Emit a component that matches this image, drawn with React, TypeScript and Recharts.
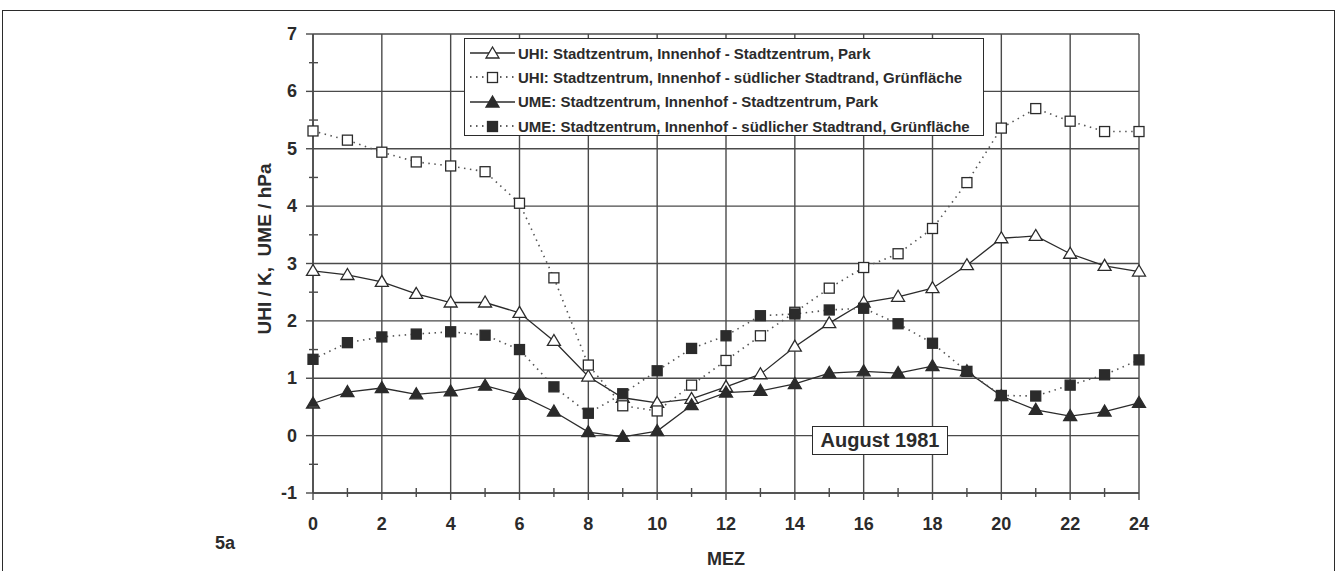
import { LineChart, Line, XAxis, YAxis, CartesianGrid, Legend } from 'recharts'

// ─── Data (MEZ hours) ───────────────────────────────────────────────────────

const HOURS = [0, 1, 2, 3, 4, 5, 6, 7, 8, 9, 10, 11, 12, 13, 14, 15, 16, 17, 18, 19, 20, 21, 22, 23, 24]

const UHI_PARK = [2.87, 2.8, 2.68, 2.47, 2.32, 2.32, 2.14, 1.65, 1.03, 0.66, 0.57, 0.64, 0.85, 1.07, 1.55, 1.96, 2.32, 2.42, 2.57, 2.97, 3.44, 3.48, 3.17, 2.96, 2.86]
const UHI_GRUEN = [5.31, 5.15, 4.94, 4.77, 4.7, 4.6, 4.05, 2.75, 1.23, 0.52, 0.43, 0.88, 1.31, 1.74, 2.15, 2.57, 2.93, 3.17, 3.61, 4.41, 5.36, 5.7, 5.48, 5.3, 5.3]
const UME_PARK = [0.56, 0.76, 0.83, 0.72, 0.77, 0.87, 0.71, 0.42, 0.06, -0.02, 0.08, 0.53, 0.75, 0.78, 0.9, 1.09, 1.12, 1.09, 1.21, 1.12, 0.69, 0.45, 0.34, 0.42, 0.57]
const UME_GRUEN = [1.33, 1.62, 1.72, 1.77, 1.81, 1.75, 1.5, 0.85, 0.39, 0.73, 1.13, 1.52, 1.74, 2.09, 2.12, 2.19, 2.22, 1.95, 1.61, 1.12, 0.7, 0.69, 0.88, 1.06, 1.32]

const X_GRID = [0, 2, 4, 6, 8, 10, 12, 14, 16, 18, 20, 22, 24]
const Y_GRID = [-1, 0, 1, 2, 3, 4, 5, 6, 7]
const Y_TICKS = [-1, -0.5, 0, 0.5, 1, 1.5, 2, 2.5, 3, 3.5, 4, 4.5, 5, 5.5, 6, 6.5, 7]

const SERIES = [
  { key: 'uhiPark', label: 'UHI: Stadtzentrum, Innenhof - Stadtzentrum, Park', shape: 'triangle', filled: false, dotted: false },
  { key: 'uhiGruen', label: 'UHI: Stadtzentrum, Innenhof - südlicher Stadtrand, Grünfläche', shape: 'square', filled: false, dotted: true },
  { key: 'umePark', label: 'UME: Stadtzentrum, Innenhof - Stadtzentrum, Park', shape: 'triangle', filled: true, dotted: false },
  { key: 'umeGruen', label: 'UME: Stadtzentrum, Innenhof - südlicher Stadtrand, Grünfläche', shape: 'square', filled: true, dotted: true },
]

const data = HOURS.map((h, i) => ({
  h,
  uhiPark: UHI_PARK[i],
  uhiGruen: UHI_GRUEN[i],
  umePark: UME_PARK[i],
  umeGruen: UME_GRUEN[i],
}))

const INK = '#2b2b2b'
const GRID = '#4a4a4a'
const FONT = '"Liberation Sans", Arial, Helvetica, sans-serif'

// ─── Markers ────────────────────────────────────────────────────────────────

function Marker({ cx, cy, shape, filled }: { cx: number; cy: number; shape: string; filled: boolean }) {
  const fill = filled ? INK : '#fff'
  if (shape === 'triangle') {
    const pts = `${cx},${cy - 6.5} ${cx - 6.5},${cy + 4.5} ${cx + 6.5},${cy + 4.5}`
    return <polygon points={pts} fill={fill} stroke={INK} strokeWidth={1.3} />
  }
  return <rect x={cx - 5} y={cy - 5} width={10} height={10} fill={fill} stroke={INK} strokeWidth={1.3} />
}

function makeDot(shape: string, filled: boolean) {
  return (props: { cx?: number; cy?: number; index?: number }) => {
    const { cx, cy, index } = props
    if (cx == null || cy == null) return <g key={index} />
    return <Marker key={index} cx={cx} cy={cy} shape={shape} filled={filled} />
  }
}

// ─── Axis ticks (label + tick mark drawn together) ──────────────────────────

function XTick(props: { x?: number; y?: number; payload?: { value: number } }) {
  const { x = 0, y = 0, payload } = props
  const v = payload?.value ?? 0
  if (v % 2 !== 0) {
    return <line x1={x} x2={x} y1={y - 5} y2={y + 4} stroke={GRID} strokeWidth={1.4} />
  }
  return (
    <g>
      <line x1={x} x2={x} y1={y} y2={y + 7} stroke={GRID} strokeWidth={1.4} />
      <text x={x} y={y + 31} textAnchor="middle" dominantBaseline="central" fontFamily={FONT} fontWeight={700} fontSize={18} fill={INK}>
        {v}
      </text>
    </g>
  )
}

function YTick(props: { x?: number; y?: number; payload?: { value: number } }) {
  const { x = 0, y = 0, payload } = props
  const v = payload?.value ?? 0
  if (!Number.isInteger(v)) {
    return <line x1={x - 4} x2={x + 5} y1={y} y2={y} stroke={GRID} strokeWidth={1.4} />
  }
  return (
    <g>
      <line x1={x - 7} x2={x} y1={y} y2={y} stroke={GRID} strokeWidth={1.4} />
      <text x={x - 16} y={y} textAnchor="end" dominantBaseline="central" fontFamily={FONT} fontWeight={700} fontSize={18} fill={INK}>
        {v}
      </text>
    </g>
  )
}

// ─── Legend box ─────────────────────────────────────────────────────────────

function LegendBox() {
  return (
    <div style={{ fontFamily: FONT, fontWeight: 700, fontSize: 15, color: INK, paddingTop: 2 }}>
      {SERIES.map((s) => (
        <div key={s.key} style={{ display: 'flex', alignItems: 'center', height: 24.3 }}>
          <svg width={52} height={20} style={{ flexShrink: 0 }}>
            <line x1={5} x2={50} y1={10} y2={10} stroke={INK} strokeWidth={1.3} strokeDasharray={s.dotted ? '1.5 4.5' : undefined} />
            <Marker cx={27.5} cy={10.5} shape={s.shape} filled={s.filled} />
          </svg>
          <span style={{ marginLeft: 1, whiteSpace: 'nowrap' }}>{s.label}</span>
        </div>
      ))}
    </div>
  )
}

// ═════════════════════════════════════════════════════════════════════════════

export default function App() {
  return (
    <div style={{ position: 'absolute', left: 0, top: 0, width: 1336, height: 571, background: '#fff', overflow: 'hidden' }}>
      {/* scanned page frame */}
      <div style={{ position: 'absolute', left: 2, top: 10, width: 1333, height: 600, borderTop: `1.5px solid ${INK}`, borderLeft: `1.5px solid ${INK}`, borderRight: `1.5px solid ${INK}`, boxSizing: 'border-box' }} />

      <LineChart width={1336} height={571} data={data} margin={{ top: 34, right: 197, left: 253, bottom: 0 }}>
        <CartesianGrid stroke={GRID} strokeWidth={1.4} verticalValues={X_GRID} horizontalValues={Y_GRID} />
        <XAxis
          type="number"
          dataKey="h"
          domain={[0, 24]}
          ticks={HOURS}
          interval={0}
          height={78}
          tickSize={0}
          tickMargin={0}
          tickLine={false}
          axisLine={{ stroke: GRID, strokeWidth: 1.6 }}
          tick={<XTick />}
          label={{ value: 'MEZ', position: 'insideBottom', offset: 6, style: { fontFamily: FONT, fontWeight: 700, fontSize: 18, fill: INK } }}
        />
        <YAxis
          type="number"
          domain={[-1, 7]}
          ticks={Y_TICKS}
          interval={0}
          width={60}
          tickSize={0}
          tickMargin={0}
          tickLine={false}
          axisLine={{ stroke: GRID, strokeWidth: 1.6 }}
          tick={<YTick />}
        />
        <Legend
          layout="horizontal"
          verticalAlign="middle"
          align="center"
          content={<LegendBox />}
          wrapperStyle={{ left: 464, top: 38, width: 520, height: 98, border: `1.5px solid ${INK}`, background: '#fff', boxSizing: 'border-box' }}
        />
        {SERIES.map((s) => (
          <Line
            key={s.key}
            type="linear"
            dataKey={s.key}
            stroke={s.dotted ? '#555' : INK}
            strokeWidth={s.dotted ? 1.6 : 1.3}
            strokeDasharray={s.dotted ? '1.5 4.5' : undefined}
            dot={makeDot(s.shape, s.filled)}
            activeDot={false}
            legendType="none"
            isAnimationActive={false}
          />
        ))}
      </LineChart>

      {/* y axis title */}
      <div style={{ position: 'absolute', left: 265, top: 249, transform: 'translate(-50%, -50%) rotate(-90deg)', fontFamily: FONT, fontWeight: 700, fontSize: 19, color: INK, whiteSpace: 'pre' }}>
        {'UHI / K,  UME / hPa'}
      </div>

      {/* panel tag */}
      <div style={{ position: 'absolute', left: 215, top: 533, fontFamily: FONT, fontWeight: 700, fontSize: 18, color: INK }}>5a</div>

      {/* month annotation */}
      <div style={{ position: 'absolute', left: 812, top: 426, width: 136, height: 29, border: `1.5px solid ${INK}`, background: '#fff', boxSizing: 'border-box', display: 'flex', alignItems: 'center', justifyContent: 'center', fontFamily: FONT, fontWeight: 700, fontSize: 20, color: INK }}>
        August 1981
      </div>
    </div>
  )
}
